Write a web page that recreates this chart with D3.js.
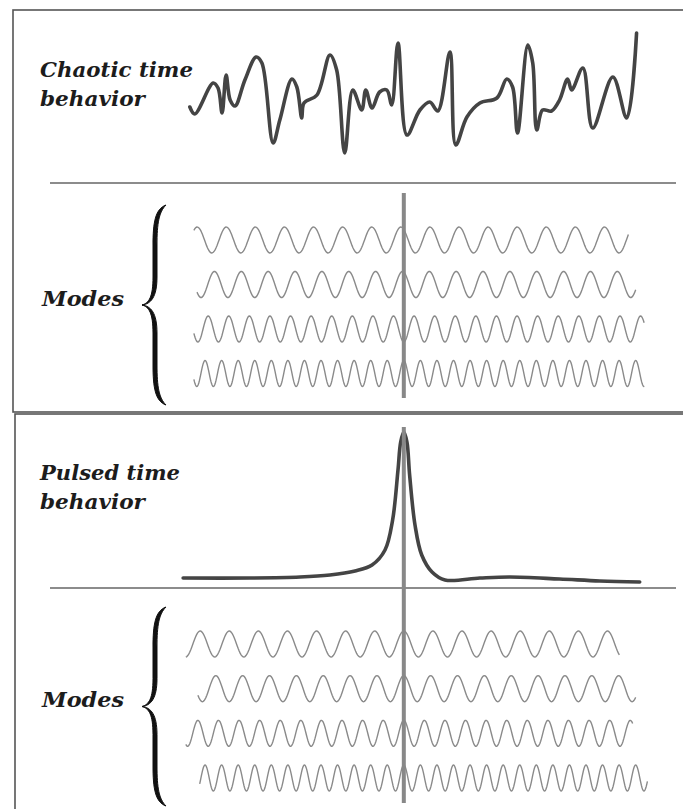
<!DOCTYPE html>
<html>
<head>
<meta charset="utf-8">
<script src="https://cdn.jsdelivr.net/npm/d3@7/dist/d3.min.js"></script>
<style>
  body { margin: 0; background: #fff; }
  .label { font-family: "DejaVu Serif", "Liberation Serif", serif; font-style: italic; font-weight: bold; fill: #1c1c1c; }
</style>
</head>
<body>
<div class="graph"></div>
<script>
/*---------- DATA ----------*/

// chaotic intensity trace (time, level), time 0 = the vertical marker
const chaoticT = [-47.8, -46.7, -42.6, -41.5, -40.6, -39.7, -38.8, -37.7, -35.5, -33.0, -31.7, -29.2,
    -27.7, -25.0, -23.9, -22.8, -22.3, -19.4, -16.5, -15.0, -13.2, -11.4, -9.4, -8.5, -7.1, -5.4,
    -3.8, -2.7, -1.3, 0.7, 3.6, 5.8, 7.6, 10.3, 11.6, 14.1, 17.0, 20.8, 23.0, 24.3, 25.4, 27.7,
    28.8, 29.7, 31.0, 33.0, 34.8, 36.6, 37.5, 40.0, 42.2, 46.7, 49.8, 52.0];
const chaoticV = [-7, -14, 17, 12, -13, 25, 0, -6, 20, 43, 37, -43,
    -20, 21, 13, -18, -3, 5, 45, 30, -53, 10, -10, 10, -8, 8,
    10, -5, 57, -35, -10, -2, -11, 48, -45, -17, -3, 2, 21, 13, -33, 55,
    37, -30, -10, -11, 0, 21, 10, 32, -28, 23, -18, 67];

// pulsed intensity trace
const pulseT = [-49.3, -34.4, -23.2, -16.5, -10.9, -7.1, -4.2, -2.5, -1.3, -0.7, 0, 0.7,
    1.3, 2.5, 4.0, 6.3, 9.2, 17.0, 23.7, 34.8, 43.8, 52.7];
const pulseV = [2, 2, 3, 5, 9, 15, 30, 60, 110, 138, 148, 138,
    105, 55, 25, 8, 0, 2, 3, 1, -1, -2];

// longitudinal modes: period in time units
const modeNames = ["m1", "m2", "m3", "m4"];
const modePeriod = [6.5, 6.0, 4.6, 3.7];

// chaotic case: random phases (fraction of a cycle at t = 0)
const chaoticPhase = [0.1, 0.05, 0.5, 0.0];
const chaoticStart = [-46.9, -46.2, -46.9, -46.9];
const chaoticEnd = [50.3, 51.8, 53.8, 53.8];

// pulsed case: all modes locked in phase at t = 0
const pulsedPhase = [0, 0, 0, 0];
const pulsedStart = [-48.7, -46.0, -48.7, -45.6];
const pulsedEnd = [48.3, 51.8, 51.2, 54.5];

/*---------- LAYOUT ----------*/

const SIZE = {X: 683, Y: 809};
const INK = "#444";
const MODE_INK = "#8a8a8a";

const svg = d3.select(".graph").append("svg")
    .attr("width", SIZE.X)
    .attr("height", SIZE.Y);

// shared time scale, marker sits at t = 0
const x = d3.scaleLinear()
    .domain([-50, 55])
    .range([180, 650]);

// mode amplitude
const amp = d3.scaleLinear()
    .domain([-1, 1])
    .range([13, -13]);

const PANELS = [
    {top: 10, left: 13, bottom: 412,
     title: ["Chaotic time", "behavior"], titleY: [77, 106], titleW: [153, 105],
     sepY: 183, markY: [193, 398],
     rows: [240, 373.5], brace: [205, 405], modesY: 306,
     phase: chaoticPhase, start: chaoticStart, end: chaoticEnd,
     traceT: chaoticT, traceV: chaoticV,
     yDomain: [-60, 70], yRange: [160, 30]},
    {top: 414, left: 15, bottom: 830,
     title: ["Pulsed time", "behavior"], titleY: [480, 509], titleW: [140, 105],
     sepY: 588, markY: [427, 803],
     rows: [644, 778], brace: [607, 806], modesY: 707,
     phase: pulsedPhase, start: pulsedStart, end: pulsedEnd,
     traceT: pulseT, traceV: pulseV,
     yDomain: [0, 150], yRange: [580, 430]}
];

//filled curly brace between y0 and y1, tip pointing left at xTip
function bracePath(xTip, y0, y1, w) {
    const ym = (y0 + y1) / 2, xs = xTip + 11, xe = xTip + 24;
    const p = d3.path();
    p.moveTo(xe, y0);
    p.bezierCurveTo(xs + 2, y0 + 4, xs, y0 + 18, xs, y0 + 40);
    p.lineTo(xs, ym - 28);
    p.bezierCurveTo(xs, ym - 8, xs - 4, ym - 2, xTip, ym);
    p.bezierCurveTo(xs - 4, ym + 2, xs, ym + 8, xs, ym + 28);
    p.lineTo(xs, y1 - 40);
    p.bezierCurveTo(xs, y1 - 18, xs + 2, y1 - 4, xe, y1);
    p.bezierCurveTo(xs + 2 + w, y1 - 7, xs + w, y1 - 18, xs + w, y1 - 40);
    p.lineTo(xs + w, ym + 28);
    p.bezierCurveTo(xs + w, ym + 8, xs - 2, ym + 1, xTip, ym);
    p.bezierCurveTo(xs - 2, ym - 1, xs + w, ym - 8, xs + w, ym - 28);
    p.lineTo(xs + w, y0 + 40);
    p.bezierCurveTo(xs + w, y0 + 18, xs + 2 + w, y0 + 7, xe, y0);
    p.closePath();
    return p.toString();
}

PANELS.forEach(P => {
    const g = svg.append("g");

    //panel frame, runs off the right edge
    g.append("rect")
        .attr("x", P.left).attr("y", P.top)
        .attr("width", SIZE.X).attr("height", P.bottom - P.top)
        .attr("fill", "none")
        .attr("stroke", "#555")
        .attr("stroke-width", 1.6);

    //titles
    P.title.forEach((s, i) => {
        g.append("text")
            .attr("class", "label")
            .attr("x", 40).attr("y", P.titleY[i])
            .attr("font-size", 20)
            .attr("textLength", P.titleW[i])
            .attr("lengthAdjust", "spacingAndGlyphs")
            .text(s);
    });

    //intensity trace
    const y = d3.scaleLinear().domain(P.yDomain).range(P.yRange);
    const trace = P.traceT.map((t, i) => ({t: t, v: P.traceV[i]}));
    const line = d3.line()
        .x(d => x(d.t))
        .y(d => y(d.v))
        .curve(d3.curveCatmullRom.alpha(0.5));

    g.append("path")
        .attr("d", line(trace))
        .attr("fill", "none")
        .attr("stroke", INK)
        .attr("stroke-width", 3.6)
        .attr("stroke-linejoin", "round")
        .attr("stroke-linecap", "round");

    //separator
    g.append("line")
        .attr("x1", 50).attr("x2", 676)
        .attr("y1", P.sepY).attr("y2", P.sepY)
        .attr("stroke", "#666")
        .attr("stroke-width", 1.6);

    //modes
    const row = d3.scalePoint().domain(modeNames).range(P.rows);
    const wave = d3.line()
        .x(d => x(d.t))
        .y(d => d.y);

    modeNames.forEach((m, i) => {
        const per = modePeriod[i];
        const pts = d3.range(P.start[i], P.end[i] + 0.001, per / 30).map(t => ({
            t: t,
            y: row(m) + amp(Math.cos(2 * Math.PI * (t / per + P.phase[i])))
        }));
        g.append("path")
            .attr("d", wave(pts))
            .attr("fill", "none")
            .attr("stroke", MODE_INK)
            .attr("stroke-width", 1.4);
    });

    //brace + label
    g.append("path")
        .attr("d", bracePath(142, P.brace[0], P.brace[1], 4))
        .attr("fill", "#111")
        .attr("stroke", "#111")
        .attr("stroke-width", 1)
        .attr("stroke-linejoin", "round");

    g.append("text")
        .attr("class", "label")
        .attr("x", 42).attr("y", P.modesY)
        .attr("font-size", 20)
        .attr("textLength", 82)
        .attr("lengthAdjust", "spacingAndGlyphs")
        .text("Modes");

    //marker at t = 0, drawn over everything
    g.append("line")
        .attr("x1", x(0)).attr("x2", x(0))
        .attr("y1", P.markY[0]).attr("y2", P.markY[1])
        .attr("stroke", "#888")
        .attr("stroke-width", 4);
});
</script>
</body>
</html>
